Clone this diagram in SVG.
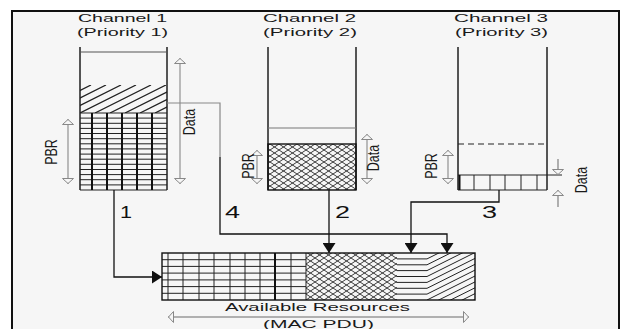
<svg xmlns="http://www.w3.org/2000/svg" width="624" height="329" viewBox="0 0 624 329">
<style>
.t{font-family:"Liberation Sans",Arial,sans-serif;font-size:11.5px;fill:#1a1a1a}
.r{font-family:"Liberation Sans",Arial,sans-serif;font-size:12.5px;fill:#1a1a1a}
.n{font-family:"Liberation Sans",Arial,sans-serif;font-size:16px;fill:#111}
.wall{stroke:#111;stroke-width:1.4;fill:none}
.thin{stroke:#222;stroke-width:1;fill:none}
.thick{stroke:#111;stroke-width:2;fill:none}
.dim{stroke:#999;stroke-width:1.3;fill:none;marker-start:url(#open);marker-end:url(#open)}
.dim1{stroke:#888;stroke-width:1.3;fill:none;marker-end:url(#open)}
.conn{stroke:#111;stroke-width:1.3;fill:none}
.arr{marker-end:url(#solid)}
</style>
<defs>
<marker id="open" viewBox="0 0 6 12" markerWidth="6" markerHeight="12" refX="6" refY="6" orient="auto-start-reverse" markerUnits="userSpaceOnUse">
<path d="M0.5,0.5 L5.5,6 L0.5,11.5 Z" fill="#f6f6f6" stroke="#888" stroke-width="1"/>
</marker>
<marker id="solid" viewBox="0 0 10 13" markerWidth="10" markerHeight="13" refX="10" refY="6.5" orient="auto" markerUnits="userSpaceOnUse">
<path d="M0,0 L10,6.5 L0,13 Z" fill="#111"/>
</marker>
<pattern id="xh" width="9" height="6" patternUnits="userSpaceOnUse">
<path d="M0,0 L9,6 M0,6 L9,0 M-1,5.33 L0,6 M9,0 L10,-0.67" stroke="#222" stroke-width="0.9" fill="none"/>
</pattern>
<clipPath id="c1h"><rect x="80" y="85" width="87" height="28"/></clipPath>
<clipPath id="cbd"><rect x="427" y="253" width="48" height="47"/></clipPath>
</defs>

<rect x="0" y="0" width="624" height="329" fill="#fff"/>
<rect x="12" y="11" width="607" height="318" fill="#f6f6f6"/>
<path d="M12 329V11H619V329" stroke="#111" stroke-width="2" fill="none"/>

<g id="channel1">
<text class="t" x="78" y="22" textLength="89" lengthAdjust="spacingAndGlyphs">Channel 1</text>
<text class="t" x="77" y="35.5" textLength="91" lengthAdjust="spacingAndGlyphs">(Priority 1)</text>
<path class="wall" d="M80 47V190M167 47V190"/>
<path d="M80 52H167" stroke="#555" stroke-width="1"/>
<g clip-path="url(#c1h)" stroke="#222" stroke-width="1.3">
<path d="M35 113L91 85M50 113L106 85M65 113L121 85M80 113L136 85M95 113L151 85M110 113L166 85M125 113L181 85M140 113L196 85M155 113L211 85"/>
</g>
<path class="thin" d="M80 113H167M80 118.1H167M80 123.3H167M80 128.4H167M80 133.5H167M80 138.7H167M80 143.8H167M80 148.9H167M80 154.1H167M80 159.2H167M80 164.3H167M80 169.5H167M80 174.6H167M80 179.7H167M80 184.9H167M80 190H167"/>
<path class="thick" d="M92 113V190M107 113V190M122 113V190M137 113V190M152 113V190"/>
<path class="dim" d="M68 119V184"/>
<text class="r" transform="translate(56.5,152) scale(1.3,1) rotate(-90)" text-anchor="middle">PBR</text>
<path class="dim" d="M180 58V184"/>
<text class="r" transform="translate(194.5,122) scale(1.3,1) rotate(-90)" text-anchor="middle">Data</text>
</g>

<g id="channel2">
<text class="t" x="263" y="22" textLength="93" lengthAdjust="spacingAndGlyphs">Channel 2</text>
<text class="t" x="263" y="35.5" textLength="94" lengthAdjust="spacingAndGlyphs">(Priority 2)</text>
<path class="wall" d="M268 47V190M356 47V190"/>
<path d="M268 128H356" stroke="#777" stroke-width="1"/>
<rect x="268" y="144" width="88" height="46" fill="url(#xh)" stroke="#111" stroke-width="1.4"/>
<path class="dim" d="M257 150V184"/>
<text class="r" transform="translate(253.5,166) scale(1.3,1) rotate(-90)" text-anchor="middle">PBR</text>
<path class="dim" d="M367 134V184"/>
<text class="r" transform="translate(378.5,158) scale(1.3,1) rotate(-90)" text-anchor="middle">Data</text>
</g>

<g id="channel3">
<text class="t" x="454" y="22" textLength="94" lengthAdjust="spacingAndGlyphs">Channel 3</text>
<text class="t" x="455" y="35.5" textLength="93" lengthAdjust="spacingAndGlyphs">(Priority 3)</text>
<path class="wall" d="M458 47V190M547 47V190"/>
<path d="M458 144H547" stroke="#222" stroke-width="1" stroke-dasharray="6,4"/>
<path class="thin" d="M458 175H562M458 190H547"/>
<path class="thin" d="M474 175V190M490 175V190M505 175V190M521 175V190M537 175V190"/>
<path class="thick" d="M459.5 175V190"/>
<path class="dim" d="M448 150V184"/>
<text class="r" transform="translate(436.5,166) scale(1.3,1) rotate(-90)" text-anchor="middle">PBR</text>
<path class="dim1" d="M558 159V175"/>
<path class="dim1" d="M558 207V190"/>
<text class="r" transform="translate(586.5,180) scale(1.3,1) rotate(-90)" text-anchor="middle">Data</text>
</g>

<g id="mac-pdu">
<path class="thin" d="M162 259.7H306M162 266.4H306M162 273.1H306M162 279.9H306M162 286.6H306M162 293.3H306"/>
<path class="thin" d="M168 253V300M183 253V300M199 253V300M214 253V300M230 253V300M245 253V300M260 253V300M291 253V300"/>
<path class="thick" d="M275 253V300"/>
<rect x="306" y="253" width="91" height="47" fill="url(#xh)"/>
<path class="thin" d="M306 253V300"/>
<path class="thin" d="M397 258.9H427M397 264.8H427M397 270.6H427M397 276.5H427M397 282.4H427M397 288.3H427M397 294.1H427"/>
<g clip-path="url(#cbd)" stroke="#222" stroke-width="1">
<path d="M427 258.9L475 234.9M427 264.8L475 240.8M427 270.6L475 246.6M427 276.5L475 252.5M427 282.4L475 258.4M427 288.3L475 264.3M427 294.1L475 270.1M427 300L475 276M427 305.9L475 281.9M427 311.8L475 287.8M427 317.6L475 293.6M427 323.5L475 299.5M427 329.4L475 305.4"/>
</g>
<rect x="162" y="253" width="313" height="47" fill="none" stroke="#111" stroke-width="1.4"/>
<text class="t" x="225" y="311" textLength="185" lengthAdjust="spacingAndGlyphs">Available Resources</text>
<path class="dim" d="M168 317H469"/>
<text class="t" x="263" y="327.5" textLength="111" lengthAdjust="spacingAndGlyphs">(MAC PDU)</text>
</g>

<g id="connectors">
<path class="conn arr" d="M114 190V277H162"/>
<path d="M167 103H220V157" stroke="#888" stroke-width="1.2" fill="none"/>
<path class="conn arr" d="M220 157V234H447V253"/>
<path class="conn arr" d="M329 190V253"/>
<path class="conn arr" d="M499 190V202H411V253"/>
<text class="n" x="120" y="218" textLength="12" lengthAdjust="spacingAndGlyphs">1</text>
<text class="n" x="225" y="218" textLength="15" lengthAdjust="spacingAndGlyphs">4</text>
<text class="n" x="335" y="218" textLength="15" lengthAdjust="spacingAndGlyphs">2</text>
<text class="n" x="482" y="218" textLength="15" lengthAdjust="spacingAndGlyphs">3</text>
</g>
</svg>
